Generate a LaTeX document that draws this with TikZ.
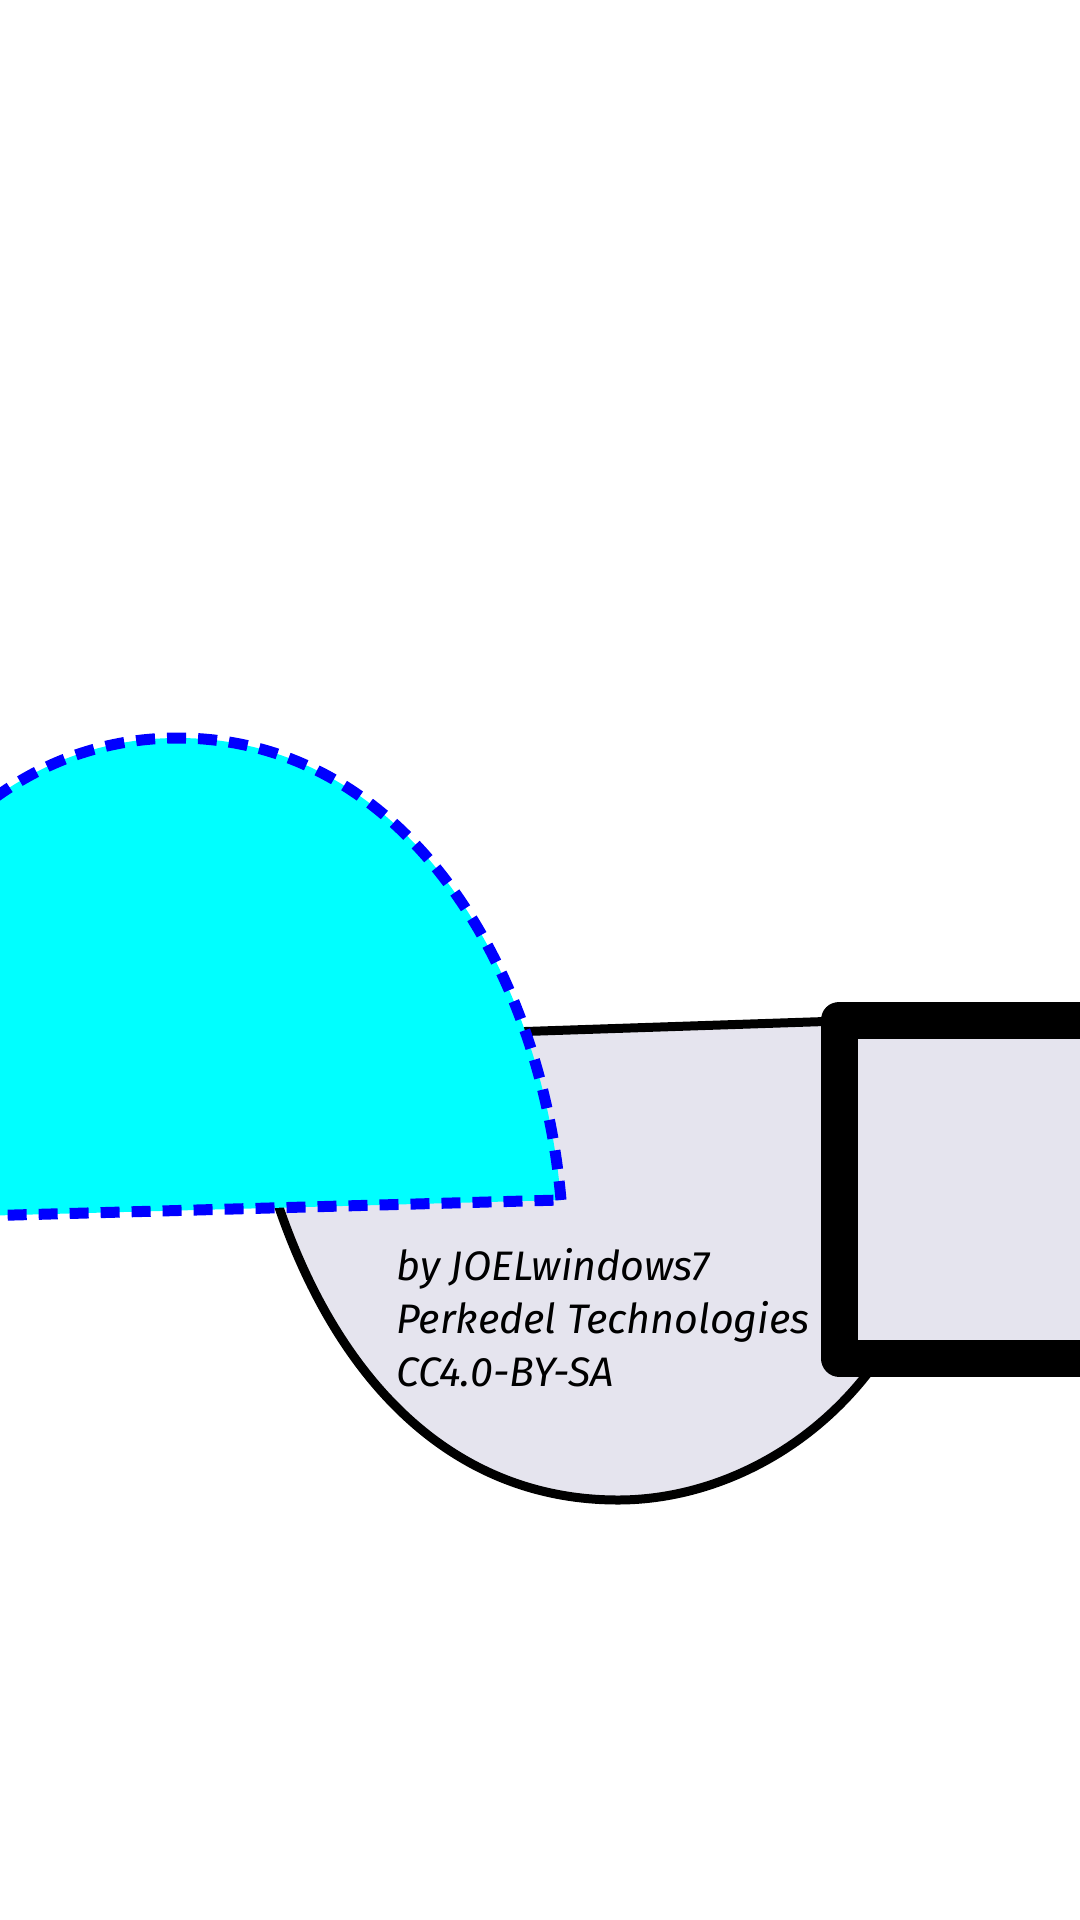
\documentclass[tikz,border=0pt]{standalone}
\usepackage{fontspec}
\setmainfont{Fira Sans}
\definecolor{lav}{RGB}{229,228,238}
\definecolor{domecyan}{RGB}{0,255,255}
\definecolor{domeblue}{RGB}{0,0,255}
\begin{document}
\begin{tikzpicture}[x=0.5pt,y=-0.5pt,
  bowl/.style={draw=black,line width=4.5pt,fill=lav,line join=round},
  dome/.style={draw=domeblue,fill=domecyan,line width=5.5pt,dash pattern=on 9.5pt off 6pt,line join=miter},
  frame/.style={draw=black,fill=lav,line width=18.5pt,line join=round},
  credit/.style={anchor=base west,inner sep=0pt,font=\fontsize{20.6pt}{26.5pt}\selectfont\itshape}]
\useasboundingbox (0,0) rectangle (1080,1920);
\fill[white] (0,0) rectangle (1080,1920);
\clip (0,0) rectangle (1080,1920);
% grey bowl
\draw[bowl] (240,1041) -- (930,1018) .. controls (1000,1320) and (800,1500) .. (618,1500) .. controls (415,1500) and (280,1320) .. (240,1041) -- cycle;
% cyan dome
\draw[dome] (561,1200) .. controls (540,960) and (400,738) .. (178,738) .. controls (-44,738) and (-184,960) .. (-205,1221) -- cycle;
% frame
\draw[frame] (839,1020) rectangle (1300,1358);
% credits
\node[credit] (t1) at (396,1280) {by JOELwindows7};
\node[credit] (t2) at (396,1333) {Perkedel Technologies};
\node[credit] (t3) at (396,1386) {CC4.0-BY-SA};
\end{tikzpicture}
\end{document}
